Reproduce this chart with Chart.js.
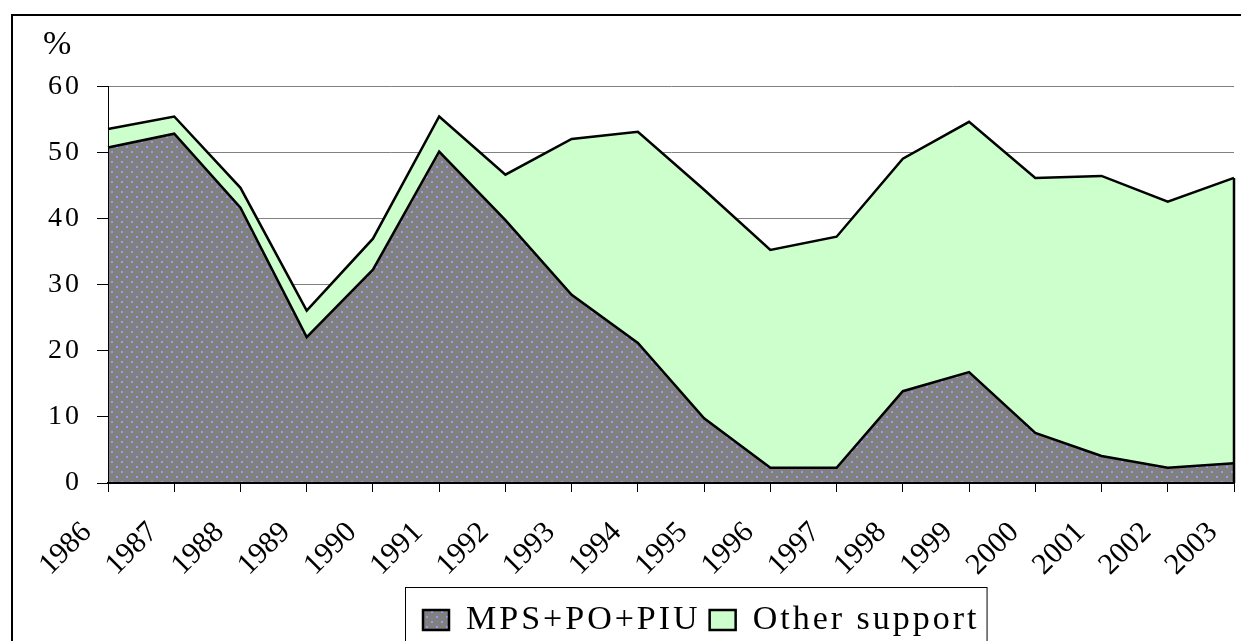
<!DOCTYPE html>
<html>
<head>
<meta charset="utf-8">
<script src="https://cdn.jsdelivr.net/npm/chart.js@4.4.1/dist/chart.umd.min.js"></script>
<style>
  html, body { margin: 0; padding: 0; background: #fff; overflow: hidden; }
  #frame { position: absolute; left: 11px; top: 14px; width: 1300px; height: 700px; border: 2px solid #000; box-sizing: border-box; }
  #wrap { position: absolute; left: 0; top: 0; width: 1241px; height: 657px; }
</style>
</head>
<body>
<div id="frame"></div>
<div id="wrap"><canvas id="chart"></canvas></div>
<script>
// data (percent)
const years = ['1986', '1987', '1988', '1989', '1990', '1991', '1992', '1993', '1994',
               '1995', '1996', '1997', '1998', '1999', '2000', '2001', '2002', '2003'];
const mpsPoPiu = [50.8, 52.9, 41.7, 22.1, 32.3, 50.2, 39.8, 28.5, 21.2,
                  9.8, 2.3, 2.3, 13.9, 16.8, 7.6, 4.1, 2.3, 3.0];
const otherSupport = [2.8, 2.6, 3.0, 4.0, 4.7, 5.3, 6.9, 23.6, 32.0,
                      34.6, 33.0, 35.0, 35.2, 37.9, 38.6, 42.4, 40.3, 43.2];
const seriesNames = ['MPS+PO+PIU', 'Other support'];
const yMax = 60;
const yStep = 10;

Chart.defaults.font.family = "'Liberation Serif', 'Times New Roman', serif";
Chart.defaults.color = '#000';

// grey fill with small blue dots, like the excel pattern
function dottedFill(ctx) {
    let c = document.createElement('canvas');
    c.width = 10; c.height = 10;
    let g = c.getContext('2d');
    g.fillStyle = '#808080';
    g.fillRect(0, 0, 10, 10);
    g.fillStyle = '#9a9af2';
    g.fillRect(1, 1, 2, 2);
    g.fillRect(6, 6, 2, 2);
    return ctx.createPattern(c, 'repeat');
}

// the original text is drawn wide, spacing the letters a bit gets close
const wideText = {
    id: 'wideText',
    beforeLayout(chart) { chart.ctx.letterSpacing = '3px'; },
    beforeDraw(chart) { chart.ctx.letterSpacing = '3px'; },
    beforeDatasetsDraw(chart) { chart.ctx.letterSpacing = '0px'; }
};

// legend sits right of centre inside a thin box
const legendBox = {
    id: 'legendBox',
    afterLayout(chart) {
        let lg = chart.legend;
        let shift = 414 - lg.left;
        lg.left += shift;
        lg.right += shift;
    },
    afterDraw(chart) {
        let lg = chart.legend;
        let ctx = chart.ctx;
        ctx.save();
        ctx.strokeStyle = '#000';
        ctx.lineWidth = 1;
        ctx.strokeRect(lg.left - 8.5, lg.top - 6.5, lg.lineWidths[0] + 16, 120);
        ctx.restore();
    }
};

// excel outlines the whole area polygon, so close the right edge
const areaEdge = {
    id: 'areaEdge',
    afterDatasetsDraw(chart) {
        let x = chart.scales.x, y = chart.scales.y;
        let i = years.length - 1;
        let px = x.getPixelForValue(i);
        let ctx = chart.ctx;
        ctx.save();
        ctx.strokeStyle = '#000';
        ctx.lineWidth = 2.5;
        ctx.beginPath();
        ctx.moveTo(px, y.getPixelForValue(0));
        ctx.lineTo(px, y.getPixelForValue(mpsPoPiu[i] + otherSupport[i]));
        ctx.stroke();
        ctx.restore();
    }
};

const ctx = document.getElementById('chart').getContext('2d');

new Chart(ctx, {
    type: 'line',
    data: {
        labels: years,
        datasets: [
            {
                label: seriesNames[0],
                data: mpsPoPiu,
                backgroundColor: dottedFill(ctx),
                borderColor: '#000',
                borderWidth: 2.5,
                fill: 'origin',
                pointRadius: 0,
                tension: 0
            },
            {
                label: seriesNames[1],
                data: otherSupport,
                backgroundColor: '#ccffcc',
                borderColor: '#000',
                borderWidth: 2.5,
                fill: '-1',
                pointRadius: 0,
                tension: 0
            }
        ]
    },
    options: {
        responsive: true,
        maintainAspectRatio: false,
        animation: false,
        layout: { padding: { left: 43, right: 7, top: 0, bottom: 10 } },
        plugins: {
            tooltip: { enabled: false },
            title: {
                display: true,
                text: '%',
                align: 'start',
                color: '#000',
                font: { size: 34, weight: 'normal' },
                padding: { top: 25, bottom: 21 }
            },
            legend: {
                position: 'bottom',
                align: 'start',
                labels: {
                    color: '#000',
                    font: { size: 34 },
                    boxWidth: 26,
                    boxHeight: 20,
                    padding: 9
                }
            }
        },
        scales: {
            x: {
                afterFit(scale) {
                    scale.height = 111;
                    scale.paddingLeft = 0;
                    scale.paddingRight = 0;
                },
                grid: { drawOnChartArea: false, color: '#000', tickLength: 9 },
                border: { color: '#000', width: 2, z: 1 },
                ticks: {
                    z: 1,
                    autoSkip: false,
                    minRotation: 45,
                    maxRotation: 45,
                    labelOffset: -21,
                    padding: 23,
                    color: '#000',
                    font: { size: 30 }
                }
            },
            y: {
                stacked: true,
                min: 0,
                max: yMax,
                afterFit(scale) { scale.width = 65; },
                grid: { color: '#808080', tickColor: '#000', tickLength: 11 },
                border: { color: '#000', width: 1, z: 1 },
                ticks: {
                    stepSize: yStep,
                    padding: 15,
                    color: '#000',
                    font: { size: 28 }
                }
            }
        }
    },
    plugins: [wideText, legendBox, areaEdge]
});
</script>
</body>
</html>
